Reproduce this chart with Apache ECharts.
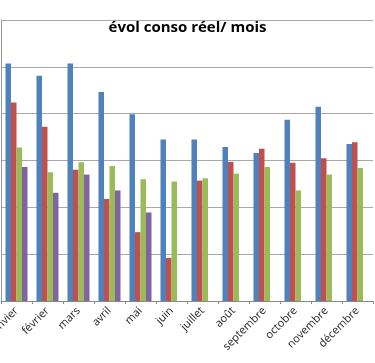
<!DOCTYPE html>
<html><head><meta charset="utf-8">
<script src="https://cdn.jsdelivr.net/npm/echarts@6/dist/echarts.min.js"></script>
<style>html,body{margin:0;padding:0;background:#fff}#c{width:375px;height:363px}</style>
</head><body><div id="c"></div>
<script>
const months = ['janvier','février','mars','avril','mai','juin','juillet','août','septembre','octobre','novembre','décembre'];
const serie1 = [5070, 4810, 5070, 4460, 3990, 3450, 3450, 3290, 3160, 3870, 4150, 3350];
const serie2 = [4240, 3720, 2800, 2180, 1470, 920, 2570, 2970, 3250, 2950, 3050, 3390];
const serie3 = [3280, 2750, 2960, 2880, 2600, 2550, 2620, 2720, 2860, 2360, 2700, 2840];
const serie4 = [2860, 2310, 2700, 2360, 1890, null, null, null, null, null, null, null];
const seriesNames = ['série 1','série 2','série 3','série 4'];
const colors = ['#4F81BD','#C0504D','#9BBB59','#8064A2'];

const chart = echarts.init(document.getElementById('c'));
const data = [serie1, serie2, serie3, serie4];
chart.setOption({
  animation: false,
  title: {
    text: 'évol conso réel/ mois', left: 'center', top: 15,
    textStyle: {fontFamily: 'Open Sans', fontWeight: 'bold', fontSize: 15, color: '#000'}
  },
  grid: {left: 1, right: 2, top: 20, bottom: 62, containLabel: false, outerBoundsMode: 'none'},
  xAxis: {
    type: 'category', data: months,
    axisLine: {lineStyle: {color: '#888', width: 1}},
    axisTick: {show: true, length: 3, lineStyle: {color: '#888'}},
    axisLabel: {rotate: 45, interval: 0, margin: 8, fontSize: 11, color: '#222', fontFamily: 'Open Sans'}
  },
  yAxis: {
    type: 'value', min: 0, max: 6000, interval: 1000,
    axisLabel: {show: false},
    axisLine: {show: true, lineStyle: {color: '#999'}},
    axisTick: {show: false},
    splitLine: {lineStyle: {color: '#a8a8a8', width: 1}}
  },
  series: data.map((d, i) => ({
    name: seriesNames[i], type: 'bar', data: d,
    barGap: '0%', barCategoryGap: '29%',
    itemStyle: {color: colors[i]}
  }))
});
</script></body></html>
